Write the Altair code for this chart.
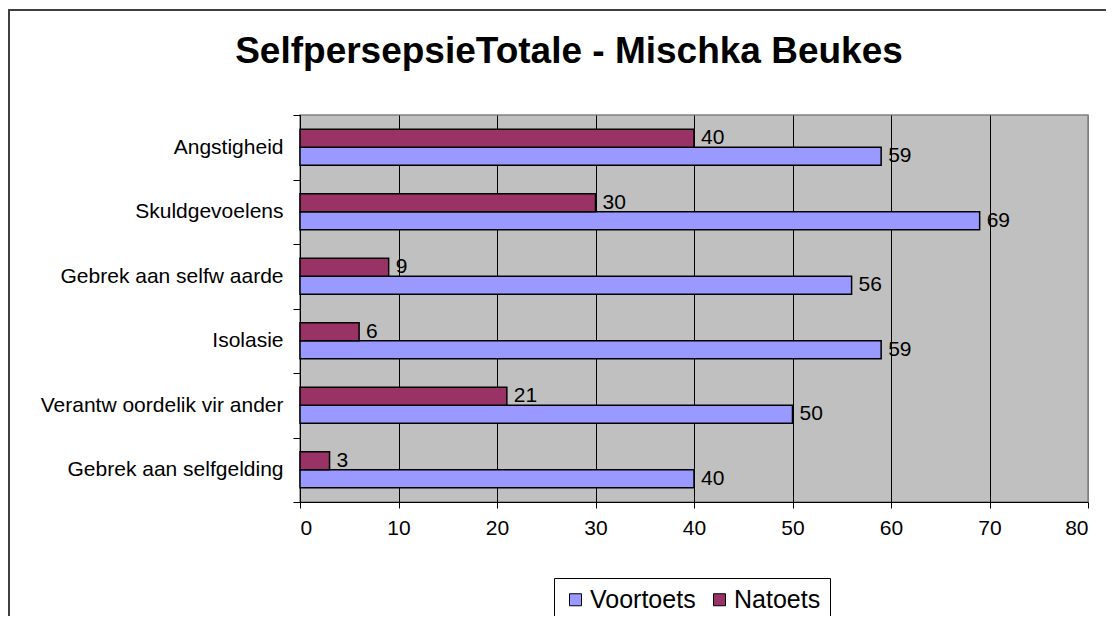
import altair as alt
import pandas as pd

categories = ["Angstigheid", "Skuldgevoelens", "Gebrek aan selfw aarde", "Isolasie",
              "Verantw oordelik vir ander", "Gebrek aan selfgelding"]
voortoets = [59, 69, 56, 59, 50, 40]
natoets = [40, 30, 9, 6, 21, 3]
series = ["Voortoets", "Natoets"]
colors = ["#9999FF", "#993366"]
x_ticks = [0, 10, 20, 30, 40, 50, 60, 70, 80]
title_text = "SelfpersepsieTotale - Mischka Beukes"

rows = []
for c, v, n in zip(categories, voortoets, natoets):
    rows.append({"cat": c, "series": "Voortoets", "value": v})
    rows.append({"cat": c, "series": "Natoets", "value": n})
df = pd.DataFrame(rows)

FONT = "Liberation Sans"
W, H = 788, 387

y_enc = alt.Y("cat:N", sort=categories,
              scale=alt.Scale(paddingInner=0, paddingOuter=0),
              axis=alt.Axis(title=None, tickBand="extent", tickSize=7, tickColor="black",
                            labelPadding=10, labelFontSize=21, labelFont=FONT,
                            labelColor="black", domainColor="black", grid=False,
                            labelLimit=400))
yoff_enc = alt.YOffset("series:N", sort=["Natoets", "Voortoets"],
                       scale=alt.Scale(paddingInner=0, paddingOuter=0.79))
x_enc = alt.X("value:Q",
              scale=alt.Scale(domain=[0, 80], nice=False),
              axis=alt.Axis(title=None, values=x_ticks, tickSize=6, tickColor="black",
                            labelPadding=9, labelFontSize=21, labelFont=FONT,
                            labelColor="black", domainColor="black", grid=True,
                            gridColor={"condition": {"test": "datum.value === 80", "value": "#808080"},
                                       "value": "#000000"},
                            gridWidth=1))

base = alt.Chart(df)

bars = base.mark_bar(stroke="black", strokeWidth=1.5).encode(
    x=x_enc, y=y_enc, yOffset=yoff_enc,
    color=alt.Color("series:N",
                    scale=alt.Scale(domain=series, range=colors),
                    legend=alt.Legend(title=None, orient="none", legendX=254, legendY=463,
                                      direction="horizontal", symbolType="square",
                                      symbolSize=144, symbolStrokeColor="black",
                                      symbolStrokeWidth=1, labelFontSize=25, labelFont=FONT,
                                      labelColor="black", labelOffset=2, columnPadding=11,
                                      padding=9, strokeColor="black", fillColor="white")),
)

labels = base.mark_text(align="left", baseline="middle", dx=7, fontSize=21,
                        font=FONT, color="black").encode(
    x="value:Q", y=alt.Y("cat:N", sort=categories), yOffset=yoff_enc,
    text="value:Q",
)

frame = alt.Chart(pd.DataFrame({"k": [0]})).mark_rect(
    fill="transparent", stroke="#404040", strokeWidth=2, clip=False).encode(
    x=alt.value(-291), x2=alt.value(W + 60), y=alt.value(-105), y2=alt.value(H + 200))

title = alt.Chart(pd.DataFrame({"t": [title_text]})).mark_text(
    fontSize=37, fontWeight="bold", font=FONT, align="center", baseline="alphabetic",
    color="black").encode(text="t:N", x=alt.value(269), y=alt.value(-52))

chart = alt.layer(frame, bars, labels, title).properties(
    width=W, height=H,
    autosize=alt.AutoSizeParams(type="none"),
    padding={"left": 292, "top": 107, "right": 18, "bottom": 114},
).configure_view(fill="#C0C0C0", stroke="#808080", strokeWidth=1.5)

chart.save("out.html", embed_options={"renderer": "svg", "actions": False})
